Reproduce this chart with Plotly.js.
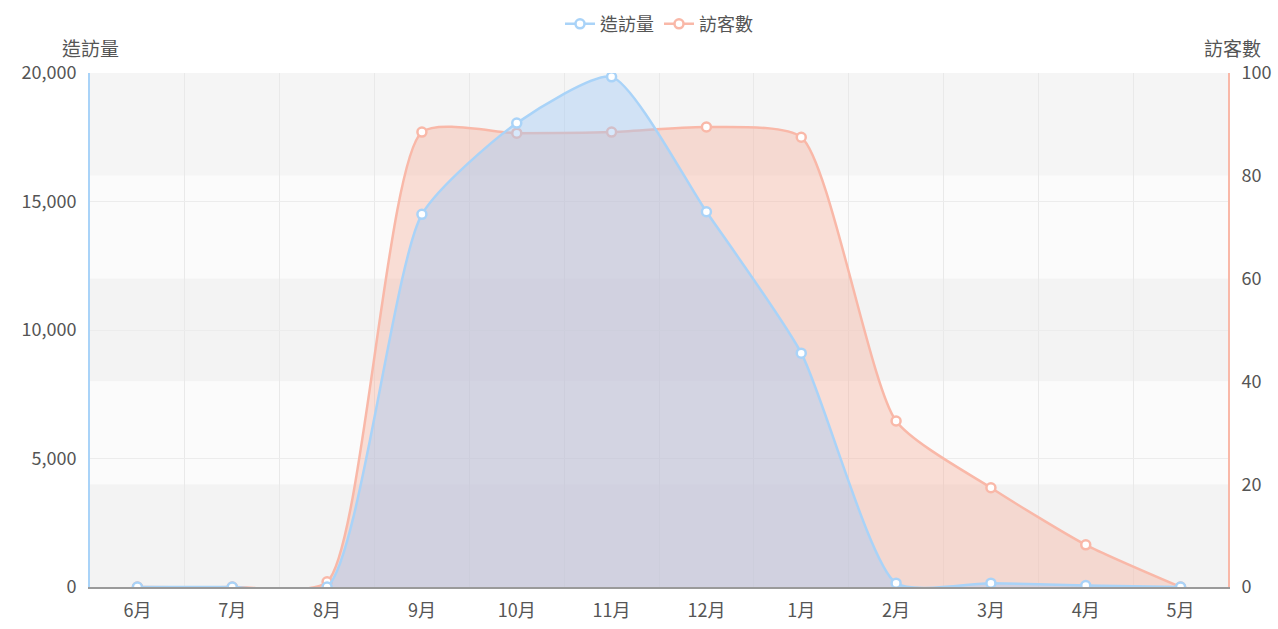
<!DOCTYPE html>
<html>
<head>
<meta charset="utf-8">
<script src="https://cdn.plot.ly/plotly-3.0.1.min.js"></script>
<style>html,body{margin:0;padding:0;background:#fff;}#chart{width:1278px;height:629px;}</style>
</head>
<body>
<div id="chart"></div>
<script>
const months = ['6月','7月','8月','9月','10月','11月','12月','1月','2月','3月','4月','5月'];
const visits = [0, 0, 0, 14500, 18050, 19850, 14600, 9100, 150, 150, 60, 0];
const visitors = [0, 0, 1, 88.5, 88.3, 88.5, 89.5, 87.5, 32.3, 19.3, 8.2, 0];
const seriesNames = ['造訪量', '訪客數'];

const FONT = '"Noto Sans CJK TC", "Noto Sans", sans-serif';
const blue = '#a9d3f8';
const red = '#f9b8a8';

const mk = c => ({symbol: 'circle', size: 9, color: '#ffffff', line: {color: c, width: 2.5}});

const traces = [
  {
    x: months, y: visitors, name: seriesNames[1], yaxis: 'y', type: 'scatter',
    mode: 'lines+markers', fill: 'tozeroy', fillcolor: 'rgba(246,168,148,0.36)',
    line: {color: red, width: 2.5, shape: 'spline', smoothing: 0.6},
    marker: mk(red), hoverinfo: 'skip', showlegend: false
  },
  {
    x: months, y: visits, name: seriesNames[0], yaxis: 'y2', type: 'scatter',
    mode: 'lines+markers', fill: 'tozeroy', fillcolor: 'rgba(160,200,245,0.42)',
    line: {color: blue, width: 2.5, shape: 'spline', smoothing: 0.6},
    marker: mk(blue), hoverinfo: 'skip', showlegend: false
  },
  {x: [months[0]], y: [null], name: seriesNames[0], yaxis: 'y2', type: 'scatter', mode: 'lines+markers',
    line: {color: blue, width: 2.5}, marker: mk(blue), hoverinfo: 'skip', legendrank: 1},
  {x: [months[0]], y: [null], name: seriesNames[1], yaxis: 'y', type: 'scatter', mode: 'lines+markers',
    line: {color: red, width: 2.5}, marker: mk(red), hoverinfo: 'skip', legendrank: 2}
];

const bands = [];
const bandCols = ['#f5f5f5', '#fbfbfb', '#f3f3f3', '#fbfbfb', '#f3f3f3'];
for (let i = 0; i < 5; i++) {
  bands.push({type: 'rect', xref: 'paper', yref: 'y', x0: 0, x1: 1,
    y0: 100 - 20 * (i + 1), y1: 100 - 20 * i, fillcolor: bandCols[i],
    line: {width: 0}, layer: 'below'});
}

const layout = {
  width: 1278, height: 629,
  margin: {l: 90, r: 50, t: 73, b: 42, autoexpand: false},
  paper_bgcolor: '#ffffff', plot_bgcolor: 'rgba(0,0,0,0)',
  font: {family: FONT, size: 18, color: '#555'},
  showlegend: true,
  legend: {orientation: 'h', x: 0.5, xanchor: 'center', y: 1.095, yanchor: 'middle',
    font: {size: 18, color: '#555', family: FONT}, traceorder: 'normal'},
  xaxis: {
    type: 'category', range: [-0.5, 11.5], tickson: 'boundaries', automargin: false,
    showgrid: true, gridcolor: '#e9e9e9', gridwidth: 1,
    showline: true, linecolor: '#9a9a9a', linewidth: 2, ticklabelstandoff: 6,
    ticks: '', tickfont: {size: 18, color: '#555'}, fixedrange: true, zeroline: false
  },
  yaxis: {
    range: [0, 100], tickvals: [0, 20, 40, 60, 80, 100], side: 'right', automargin: false,
    showgrid: false, showline: true, linecolor: red, linewidth: 2, zeroline: false,
    ticks: '', tickfont: {size: 18, color: '#555'}, fixedrange: true, ticklabelstandoff: 8
  },
  yaxis2: {
    range: [0, 20000], tickvals: [0, 5000, 10000, 15000, 20000], overlaying: 'y', side: 'left',
    ticktext: ['0', '5,000', '10,000', '15,000', '20,000'], automargin: false,
    showgrid: true, gridcolor: '#ececec', gridwidth: 1,
    showline: true, linecolor: blue, linewidth: 2, zeroline: false,
    ticks: '', tickfont: {size: 18, color: '#555'}, fixedrange: true, ticklabelstandoff: 8
  },
  shapes: bands,
  annotations: [
    {text: seriesNames[0], xref: 'paper', yref: 'paper', x: 0, y: 1, xanchor: 'center', yanchor: 'bottom',
      xshift: 0, yshift: 10, showarrow: false, font: {size: 19, color: '#555', family: FONT}},
    {text: seriesNames[1], xref: 'paper', yref: 'paper', x: 1, y: 1, xanchor: 'center', yanchor: 'bottom',
      xshift: 4, yshift: 10, showarrow: false, font: {size: 19, color: '#555', family: FONT}}
  ]
};

Plotly.newPlot('chart', traces, layout, {displayModeBar: false, staticPlot: true});
</script>
</body>
</html>
